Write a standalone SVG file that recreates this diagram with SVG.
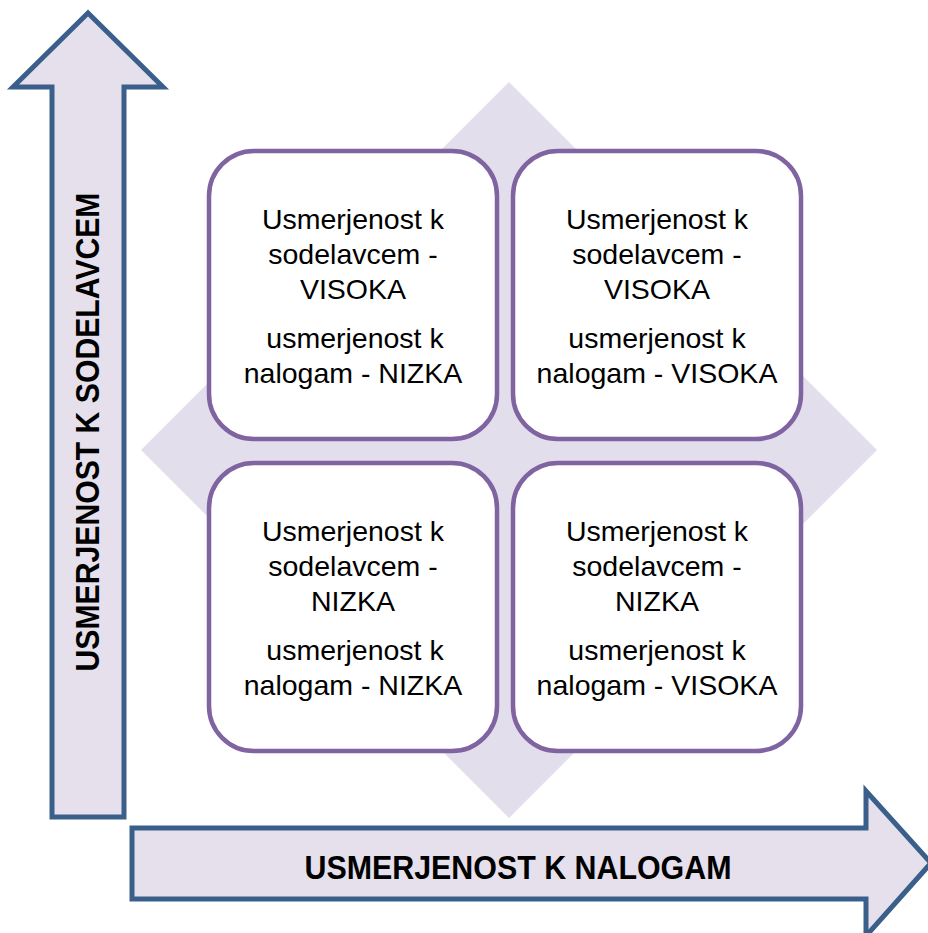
<svg xmlns="http://www.w3.org/2000/svg" width="928" height="933" viewBox="0 0 928 933">
  <style>
    .arrow { fill: #E5E0EC; stroke: #3A5F8B; stroke-width: 5; stroke-linejoin: miter; }
    .axis { font-family: "Liberation Sans", Arial, sans-serif; font-weight: bold; font-size: 33px; fill: #000; }
    .card { fill: #FFFFFF; stroke: #8064A2; stroke-width: 4.5; }
    .lbl { font-family: "Liberation Sans", Arial, sans-serif; font-size: 28.5px; fill: #000; text-anchor: middle; }
  </style>
  <rect width="928" height="933" fill="#FFFFFF"/>

  <!-- background diamond -->
  <polygon id="diamond" points="509,82 877,450 509,818 141,450" fill="#E3DEEB"/>

  <!-- axis arrows -->
  <g id="connectors">
    <g id="axis-y">
      <path class="arrow" d="M88,13 L163,87 L124,87 L124,817 L52,817 L52,87 L13,87 Z"/>
      <text class="axis" transform="translate(99,432) rotate(-90)" text-anchor="middle" textLength="479" lengthAdjust="spacingAndGlyphs">USMERJENOST K SODELAVCEM</text>
    </g>
    <g id="axis-x">
      <path class="arrow" d="M132,828 L866,828 L866,791 L931,863 L866,936 L866,899 L132,899 Z"/>
      <text class="axis" x="518" y="879" text-anchor="middle" textLength="427" lengthAdjust="spacingAndGlyphs">USMERJENOST K NALOGAM</text>
    </g>
  </g>

  <!-- quadrant cards -->
  <g id="q-top-left">
    <rect class="card" x="209" y="151" width="288" height="288" rx="45" ry="45"/>
    <text class="lbl" x="353" y="229">Usmerjenost k</text>
    <text class="lbl" x="353" y="264">sodelavcem -</text>
    <text class="lbl" x="353" y="299">VISOKA</text>
    <text class="lbl" x="355" y="348">usmerjenost k</text>
    <text class="lbl" x="353" y="383">nalogam - NIZKA</text>
  </g>
  <g id="q-top-right">
    <rect class="card" x="513" y="151" width="288" height="288" rx="45" ry="45"/>
    <text class="lbl" x="657" y="229">Usmerjenost k</text>
    <text class="lbl" x="657" y="264">sodelavcem -</text>
    <text class="lbl" x="657" y="299">VISOKA</text>
    <text class="lbl" x="657" y="348">usmerjenost k</text>
    <text class="lbl" x="657" y="383">nalogam - VISOKA</text>
  </g>
  <g id="q-bottom-left">
    <rect class="card" x="209" y="463" width="288" height="288" rx="45" ry="45"/>
    <text class="lbl" x="353" y="541">Usmerjenost k</text>
    <text class="lbl" x="353" y="576">sodelavcem -</text>
    <text class="lbl" x="353" y="611">NIZKA</text>
    <text class="lbl" x="355" y="660">usmerjenost k</text>
    <text class="lbl" x="353" y="695">nalogam - NIZKA</text>
  </g>
  <g id="q-bottom-right">
    <rect class="card" x="513" y="463" width="288" height="288" rx="45" ry="45"/>
    <text class="lbl" x="657" y="541">Usmerjenost k</text>
    <text class="lbl" x="657" y="576">sodelavcem -</text>
    <text class="lbl" x="657" y="611">NIZKA</text>
    <text class="lbl" x="657" y="660">usmerjenost k</text>
    <text class="lbl" x="657" y="695">nalogam - VISOKA</text>
  </g>
</svg>
